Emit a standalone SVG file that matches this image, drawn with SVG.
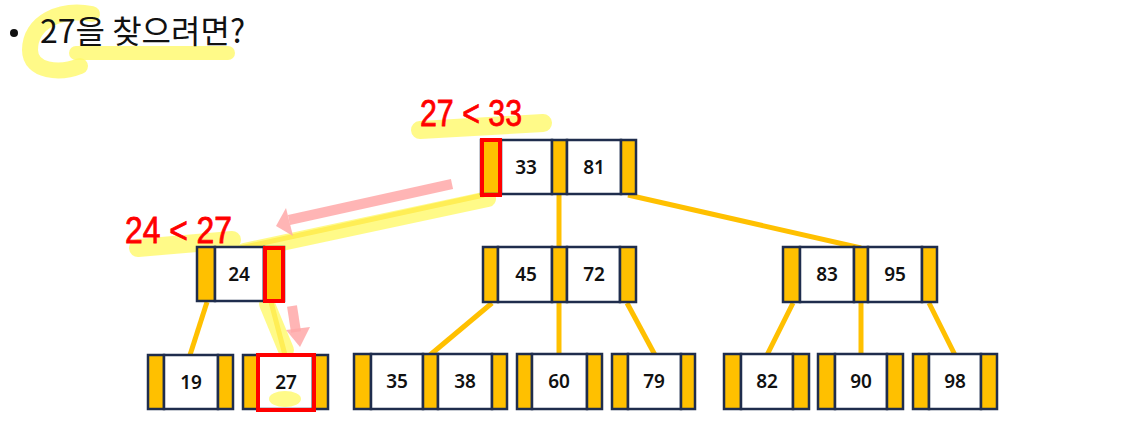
<svg xmlns="http://www.w3.org/2000/svg" width="1143" height="432" viewBox="0 0 1143 432">
<defs>
<style>
.p{fill:#FFC000;stroke:#1F2D4D;stroke-width:2.5}
.k{fill:#FFFFFF;stroke:#1F2D4D;stroke-width:2.5}
.t{font-family:"Noto Sans","Liberation Sans",sans-serif;font-size:19px;font-weight:600;fill:#111;text-anchor:middle;dominant-baseline:central}
.c{stroke:#FFC000;stroke-width:5;fill:none}
.hl{stroke:#FFF96A;stroke-opacity:0.8;stroke-linecap:round;fill:none}
.red{fill:none;stroke:#FF0000;stroke-width:4}
.ann{font-family:"Liberation Sans Narrow","Liberation Sans",sans-serif;font-size:36px;fill:#FF0000;stroke:#FF0000;stroke-width:0.8}
.pink{stroke:#FFA8A8;stroke-opacity:0.85;stroke-width:10;fill:none}
.ph{fill:#FFA8A8;fill-opacity:0.85}
</style>
</defs>
<rect width="1143" height="432" fill="#FFFFFF"/>

<g id="title">
<path class="hl" d="M92 14 C60 8 30 22 30 50 C30 72 60 74 80 66" stroke-width="16"/>
<line class="hl" x1="76" y1="53" x2="228" y2="53" stroke-width="14"/>
<circle cx="14" cy="33" r="4" fill="#111"/>
<text x="40" y="43" font-family="'Noto Sans CJK KR','Noto Sans',sans-serif" font-size="32" fill="#111">27을 찾으려면?</text>
</g>

<g id="connectors">
<line class="c" x1="484" y1="195" x2="240" y2="248"/>
<line class="c" x1="559" y1="195" x2="559" y2="248"/>
<line class="c" x1="628" y1="195" x2="861" y2="248"/>
<line class="c" x1="207" y1="302" x2="190" y2="355"/>
<line class="c" x1="271" y1="302" x2="285" y2="355"/>
<line class="c" x1="492" y1="303" x2="430" y2="355"/>
<line class="c" x1="559" y1="303" x2="559" y2="355"/>
<line class="c" x1="627" y1="303" x2="655" y2="355"/>
<line class="c" x1="793" y1="303" x2="767" y2="355"/>
<line class="c" x1="861" y1="303" x2="861" y2="355"/>
<line class="c" x1="929" y1="303" x2="955" y2="355"/>
</g>

<g id="highlights">
<line class="hl" x1="420" y1="130" x2="543" y2="123" stroke-width="18"/>
<line class="hl" x1="138" y1="248" x2="232" y2="240" stroke-width="18"/>
<line class="hl" x1="244" y1="251" x2="488" y2="199" stroke-width="16"/>
<line class="hl" x1="267" y1="304" x2="286" y2="350" stroke-width="16"/>
</g>

<g id="n_root">
<rect class="p" x="481" y="140" width="20" height="54"/>
<rect class="k" x="501" y="140" width="51" height="54"/>
<rect class="p" x="552" y="140" width="15" height="54"/>
<rect class="k" x="567" y="140" width="54" height="54"/>
<rect class="p" x="621" y="140" width="15" height="54"/>
<text class="t" x="526" y="167">33</text>
<text class="t" x="594" y="167">81</text>
<rect class="red" x="482" y="140" width="18" height="55"/>
</g>

<g id="n_24">
<rect class="p" x="197" y="247" width="18" height="54"/>
<rect class="k" x="215" y="247" width="49" height="54"/>
<rect class="p" x="264" y="247" width="20" height="54"/>
<text class="t" x="239" y="274">24</text>
<rect class="red" x="265" y="248" width="18" height="53"/>
</g>

<g id="n_45_72">
<rect class="p" x="483" y="247" width="15" height="55"/>
<rect class="k" x="498" y="247" width="54" height="55"/>
<rect class="p" x="552" y="247" width="15" height="55"/>
<rect class="k" x="567" y="247" width="53" height="55"/>
<rect class="p" x="620" y="247" width="16" height="55"/>
<text class="t" x="526" y="274">45</text>
<text class="t" x="594" y="274">72</text>
</g>

<g id="n_83_95">
<rect class="p" x="783" y="247" width="17" height="55"/>
<rect class="k" x="800" y="247" width="54" height="55"/>
<rect class="p" x="854" y="247" width="14" height="55"/>
<rect class="k" x="868" y="247" width="54" height="55"/>
<rect class="p" x="922" y="247" width="15" height="55"/>
<text class="t" x="827" y="274">83</text>
<text class="t" x="895" y="274">95</text>
</g>

<g id="n_19">
<rect class="p" x="148" y="355" width="16" height="54"/>
<rect class="k" x="164" y="355" width="54" height="54"/>
<rect class="p" x="218" y="355" width="15" height="54"/>
<text class="t" x="191" y="382">19</text>
</g>

<g id="n_27">
<rect class="p" x="243" y="355" width="15" height="54"/>
<rect class="k" x="258" y="355" width="55" height="54"/>
<rect class="p" x="313" y="355" width="15" height="54"/>
<ellipse cx="285" cy="399" rx="16" ry="8" fill="#FFF96A" fill-opacity="0.8"/>
<text class="t" x="286" y="382">27</text>
<rect class="red" x="258" y="355" width="56" height="55"/>
</g>

<g id="n_35_38">
<rect class="p" x="354" y="354" width="17" height="55"/>
<rect class="k" x="371" y="354" width="52" height="55"/>
<rect class="p" x="423" y="354" width="15" height="55"/>
<rect class="k" x="438" y="354" width="54" height="55"/>
<rect class="p" x="492" y="354" width="15" height="55"/>
<text class="t" x="397" y="381">35</text>
<text class="t" x="465" y="381">38</text>
</g>

<g id="n_60">
<rect class="p" x="517" y="354" width="15" height="55"/>
<rect class="k" x="532" y="354" width="55" height="55"/>
<rect class="p" x="587" y="354" width="15" height="55"/>
<text class="t" x="559" y="381">60</text>
</g>

<g id="n_79">
<rect class="p" x="612" y="354" width="16" height="55"/>
<rect class="k" x="628" y="354" width="53" height="55"/>
<rect class="p" x="681" y="354" width="14" height="55"/>
<text class="t" x="654" y="381">79</text>
</g>

<g id="n_82">
<rect class="p" x="724" y="354" width="17" height="55"/>
<rect class="k" x="741" y="354" width="52" height="55"/>
<rect class="p" x="793" y="354" width="16" height="55"/>
<text class="t" x="767" y="381">82</text>
</g>

<g id="n_90">
<rect class="p" x="818" y="354" width="17" height="55"/>
<rect class="k" x="835" y="354" width="52" height="55"/>
<rect class="p" x="887" y="354" width="16" height="55"/>
<text class="t" x="861" y="381">90</text>
</g>

<g id="n_98">
<rect class="p" x="913" y="354" width="16" height="55"/>
<rect class="k" x="929" y="354" width="52" height="55"/>
<rect class="p" x="981" y="354" width="16" height="55"/>
<text class="t" x="955" y="381">98</text>
</g>

<g id="annotations">
<text class="ann" x="420" y="126" textLength="102" lengthAdjust="spacingAndGlyphs">27 &lt; 33</text>
<text class="ann" x="125" y="243" textLength="107" lengthAdjust="spacingAndGlyphs">24 &lt; 27</text>
<line class="pink" x1="452" y1="184" x2="289" y2="220"/>
<path class="ph" d="M276,226 L286,208 L293,236 Z"/>
<line class="pink" x1="292" y1="306" x2="296" y2="332"/>
<path class="ph" d="M300,347 L286,330 L310,327 Z"/>
</g>
</svg>
